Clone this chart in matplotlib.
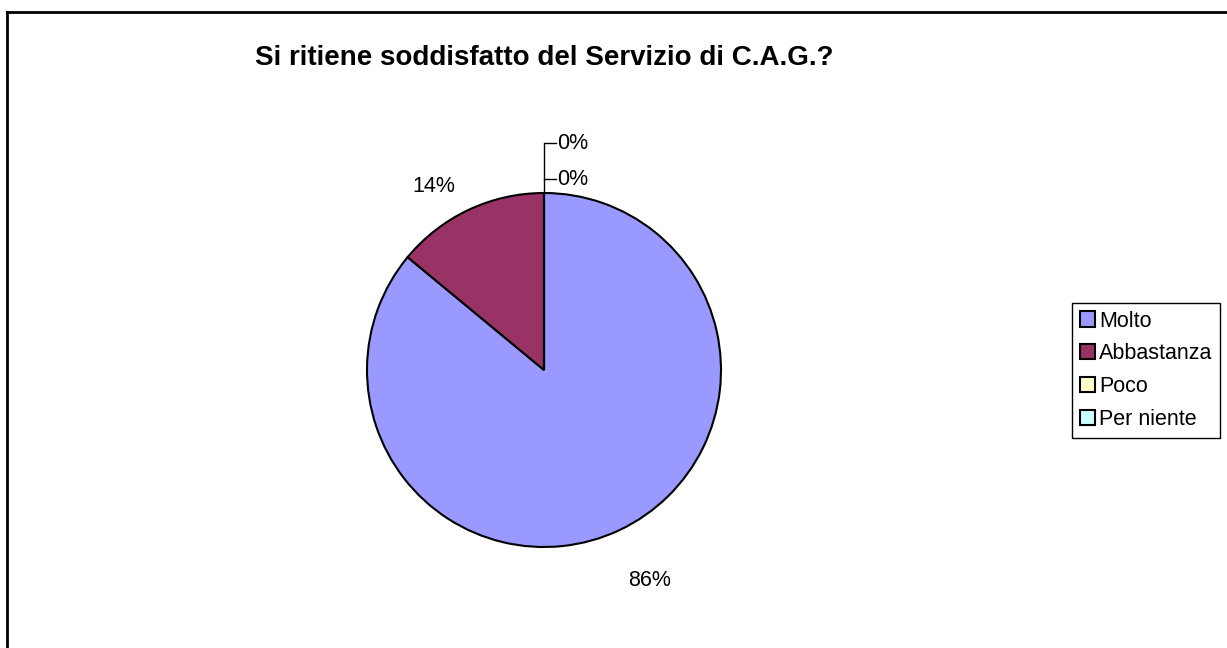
import matplotlib.pyplot as plt
from matplotlib.lines import Line2D
from matplotlib.patches import Patch

plt.rcParams['font.family'] = ['Liberation Sans', 'DejaVu Sans']

title = "Si ritiene soddisfatto del Servizio di C.A.G.?"
categories = ["Molto", "Abbastanza", "Poco", "Per niente"]
values = [86, 14, 0, 0]
colors = ["#9999FF", "#993366", "#FFFFCC", "#CCFFFF"]

W, H = 1227, 648
fig = plt.figure(figsize=(W / 100, H / 100), dpi=100)

# outer chart frame (top and left edges visible)
fig.add_artist(Line2D([7 / W, 7 / W], [0, 1 - 12 / H], transform=fig.transFigure, color="black", lw=2))
fig.add_artist(Line2D([7 / W, 1], [1 - 12 / H, 1 - 12 / H], transform=fig.transFigure, color="black", lw=2))

cx, cy, r = 544, 370, 177
ax = fig.add_axes([(cx - r) / W, (H - cy - r) / H, 2 * r / W, 2 * r / H])
wedges, _ = ax.pie(values, colors=colors, startangle=90, counterclock=False,
                   wedgeprops=dict(edgecolor="black", linewidth=1.5))
ax.set_xlim(-1, 1)
ax.set_ylim(-1, 1)
ax.set_aspect("equal")
ax.axis("off")

fs = 15.5
total = sum(values)
pct = [f"{round(v * 100 / total)}%" for v in values]
ax.text(0.595, -1.19, pct[0], ha="center", va="center", fontsize=fs, clip_on=False)
ax.text(-0.625, 1.035, pct[1], ha="center", va="center", fontsize=fs, clip_on=False)
# leader lines for the zero slices
ax.plot([0, 0, 0.07], [1.0, 1.282, 1.282], color="black", lw=1, clip_on=False)
ax.plot([0, 0.07], [1.079, 1.079], color="black", lw=1, clip_on=False)
ax.text(0.075, 1.282, pct[2], ha="left", va="center", fontsize=fs, clip_on=False)
ax.text(0.075, 1.079, pct[3], ha="left", va="center", fontsize=fs, clip_on=False)

fig.text(cx / W, 1 - 58 / H, title, ha="center", va="center", fontsize=20, fontweight="bold")

handles = [Patch(facecolor=c, edgecolor="black", linewidth=1.5) for c in colors]
leg = fig.legend(handles, categories, loc="upper left",
                 bbox_to_anchor=(1072 / W, 1 - 303 / H), fontsize=fs,
                 handlelength=0.7, handleheight=0.7, handletextpad=0.2,
                 labelspacing=0.55, borderpad=0.35, borderaxespad=0,
                 fancybox=False, framealpha=1)
leg.get_frame().set_edgecolor("black")
leg.get_frame().set_linewidth(1)

fig.savefig("out.png", dpi=100)
